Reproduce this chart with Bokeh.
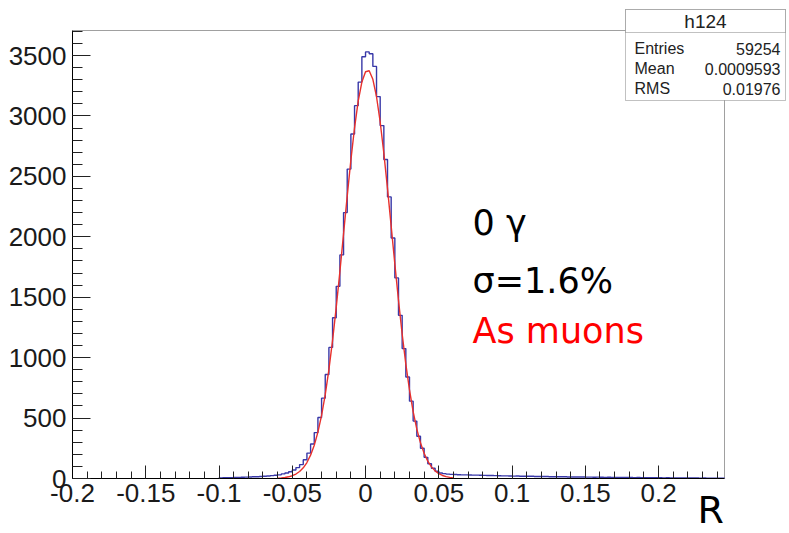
import numpy as np
from bokeh.plotting import figure
from bokeh.models import FixedTicker, Label, Range1d, BoxAnnotation, Title
from bokeh.embed import file_html
from bokeh.resources import INLINE

# ---------------- data ----------------
bin_width = 0.0025
hist_start = -0.1
counts = [
    5, 6, 6, 7, 8, 9, 10, 11, 12, 14, 15, 17, 19, 21, 24, 27,
    30, 38, 45, 56, 70, 90, 115, 155, 210, 285, 380, 505, 665, 860, 1085,
    1330, 1590, 1850, 2200, 2560, 2850, 3085, 3280, 3490, 3530, 3515, 3410,
    3160, 2920, 2640, 2330, 1990, 1660, 1350, 1075, 840, 640, 475, 350, 250,
    175, 122, 85, 60, 46, 40, 36, 34, 33, 31, 30,
    30, 29, 28, 28, 27, 26, 25, 25, 24, 23,
    22, 22, 21, 20, 21, 19, 19, 18, 18, 17,
    17, 16, 16, 15, 15, 14, 14, 14, 13, 13,
    12, 12, 12, 11, 11, 10, 11, 10, 9, 10,
    9, 9, 8, 9, 8, 8, 7, 8, 7, 7,
    7, 6, 6, 6, 5, 6, 5, 5, 5, 4,
    5, 4, 4, 4, 3, 4, 3, 3, 3, 3,
    2,
]
fit_start = -0.06
fit_step = 0.0025
fit_values = [
    3, 5, 8, 14, 23, 37, 58, 88, 132, 193, 275, 384, 522, 694, 901,
    1143, 1416, 1713, 2025, 2337, 2635, 2902, 3122, 3280, 3366, 3374,
    3303, 3159, 2950, 2691, 2399, 2088, 1775, 1474, 1196, 947, 733, 554,
    409, 295, 208, 143, 96, 63, 40, 25, 15, 9, 5,
]
x_lo, x_hi = -0.2, 0.245
y_lo, y_hi = 0, 3707
y_ticks = [0, 500, 1000, 1500, 2000, 2500, 3000, 3500]
x_ticks = [-0.2, -0.15, -0.1, -0.05, 0, 0.05, 0.1, 0.15, 0.2]
x_tick_labels = ["-0.2", "-0.15", "-0.1", "-0.05", "0", "0.05", "0.1", "0.15", "0.2"]
stats_title = "h124"
stats_names = ["Entries", "Mean", "RMS"]
stats_values = ["59254", "0.0009593", "0.01976"]
note_lines = ["0 γ", "σ=1.6%", "As muons"]
note_colors = ["black", "black", "#ff0000"]
x_title = "R"

# ---------------- layout (pixels) ----------------
data_w, data_h = 652, 448      # pixel size of the histogram area
extra_right, extra_top = 62, 22  # room for the stats box inside the frame
x_end = x_hi + (x_hi - x_lo) / data_w * extra_right
y_end = y_hi + (y_hi - y_lo) / data_h * extra_top

p = figure(frame_width=data_w + extra_right, frame_height=data_h + extra_top,
           x_range=Range1d(x_lo, x_end), y_range=Range1d(y_lo, y_end),
           output_backend="svg", toolbar_location=None,
           min_border_left=72, min_border_right=1,
           min_border_top=8, min_border_bottom=53)
p.grid.visible = False
p.outline_line_color = None
p.background_fill_color = "white"
p.border_fill_color = "white"

# frame lines (top / right) of the histogram area
p.line([x_lo, x_hi, x_hi], [y_hi, y_hi, y_lo], line_color="#a0a0a0", line_width=1)

# histogram outline
edges = [hist_start + i * bin_width for i in range(len(counts) + 1)]
hx = [edges[0]]
hy = [0]
for i, c in enumerate(counts):
    hx += [edges[i], edges[i + 1]]
    hy += [c, c]
hx.append(edges[-1])
hy.append(0)
p.line(hx, hy, line_color="#3838a8", line_width=1.4)

# fit curve
fx = [fit_start + i * fit_step for i in range(len(fit_values))]
p.line(fx, fit_values, line_color="#e8302c", line_width=1.4)

# axes
font = "Liberation Sans"
p.xaxis.ticker = FixedTicker(ticks=x_ticks,
                             minor_ticks=[round(-0.2 + 0.01 * i, 3) for i in range(45)])
p.xaxis.major_label_overrides = {t: l for t, l in zip(x_ticks, x_tick_labels)}
p.yaxis.ticker = FixedTicker(ticks=y_ticks, minor_ticks=list(range(0, 3701, 100)))
p.xaxis.bounds = (x_lo, x_hi)
p.yaxis.bounds = (y_lo, y_hi)
for ax in (p.xaxis[0], p.yaxis[0]):
    ax.axis_line_color = "black"
    ax.axis_line_width = 1
    ax.major_tick_line_color = "#222222"
    ax.minor_tick_line_color = "#222222"
    ax.major_tick_out = 0
    ax.minor_tick_out = 0
    ax.major_label_text_font = font
    ax.major_label_text_font_size = "26px"
    ax.major_label_text_color = "#1a1a1a"
p.xaxis.major_tick_in = 13
p.xaxis.minor_tick_in = 7
p.xaxis.major_label_standoff = 5
p.yaxis.major_tick_in = 18
p.yaxis.minor_tick_in = 10
p.yaxis.major_label_standoff = 6

# stats box (screen units, measured from the frame's bottom-left corner)
box_kw = dict(left_units="screen", right_units="screen", top_units="screen",
              bottom_units="screen", fill_color="white", fill_alpha=1.0,
              line_color="#333333", line_width=1)
p.add_layout(BoxAnnotation(left=553, right=713, top=469, bottom=378, **box_kw))
p.add_layout(BoxAnnotation(left=553, right=713, top=469, bottom=446, **box_kw))
p.add_layout(Label(x=633, y=457, x_units="screen", y_units="screen", text=stats_title,
                   text_font=font, text_font_size="19px", text_align="center",
                   text_baseline="middle", text_color="#222222"))
for i, (n, v) in enumerate(zip(stats_names, stats_values)):
    yy = 430 - i * 20
    p.add_layout(Label(x=562, y=yy, x_units="screen", y_units="screen", text=n,
                       text_font=font, text_font_size="16px", text_align="left",
                       text_baseline="middle", text_color="#222222"))
    p.add_layout(Label(x=708, y=yy, x_units="screen", y_units="screen", text=v,
                       text_font=font, text_font_size="16px", text_align="right",
                       text_baseline="middle", text_color="#222222"))

# notes
for i, (t, c) in enumerate(zip(note_lines, note_colors)):
    yy = [256, 198, 148][i]
    p.add_layout(Label(x=400, y=yy, x_units="screen", y_units="screen", text=t,
                       text_font="DejaVu Sans", text_font_size="35px",
                       text_align="left", text_baseline="alphabetic", text_color=c))

# axis title "R" at the lower right, below the tick labels
p.add_layout(Title(text=x_title, align="left", offset=625, standoff=-38,
                   vertical_align="bottom", text_font="DejaVu Sans",
                   text_font_size="38px", text_font_style="normal",
                   text_color="black"), "below")

open("out.html", "w").write(file_html(p, INLINE))
